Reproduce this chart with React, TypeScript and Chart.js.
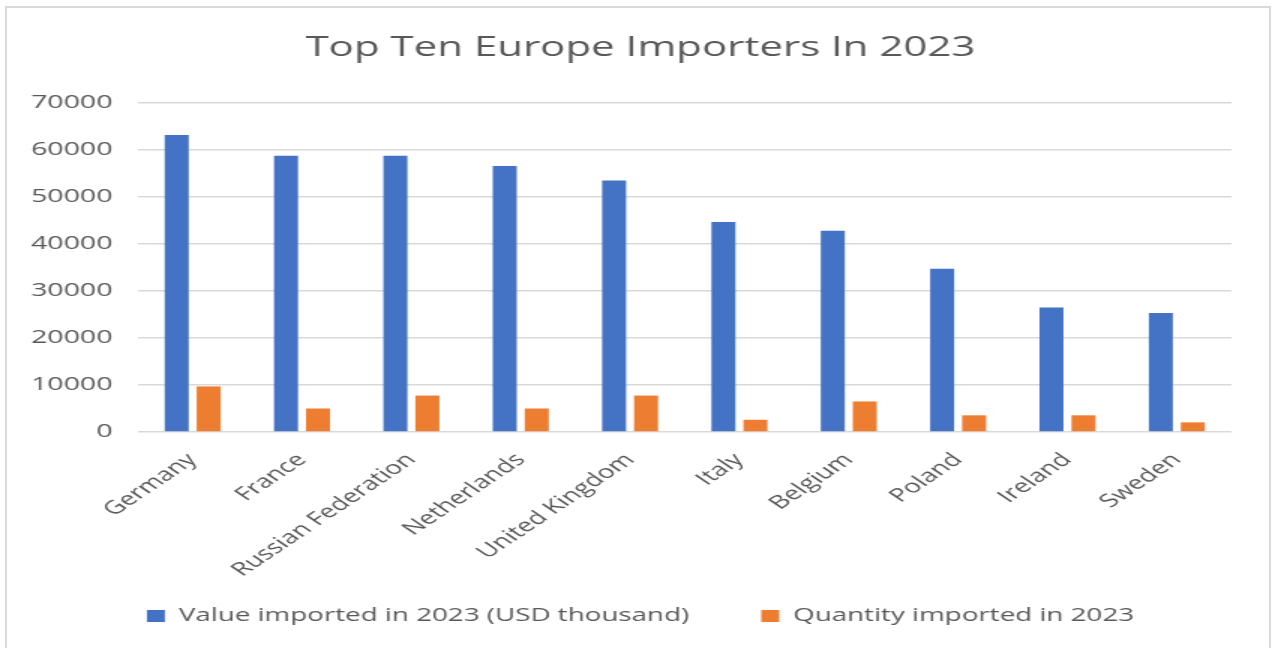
import { useEffect, useRef } from 'react';
import { Chart, registerables } from 'chart.js';

Chart.register(...registerables);

const categories = [
  'Germany',
  'France',
  'Russian Federation',
  'Netherlands',
  'United Kingdom',
  'Italy',
  'Belgium',
  'Poland',
  'Ireland',
  'Sweden',
];
const valueImported = [63200, 58800, 58800, 56600, 53500, 44700, 42800, 34750, 26500, 25300];
const quantityImported = [9700, 5000, 7750, 5000, 7750, 2600, 6500, 3550, 3550, 2050];
const seriesNames = ['Value imported in 2023 (USD thousand)', 'Quantity imported in 2023'];
const chartTitle = 'Top Ten Europe Importers In 2023';
const yMin = 0;
const yMax = 70000;
const yStep = 10000;

const FONT = "'Open Sans', 'Noto Sans', sans-serif";
const TEXT = '#595959';
const SX = 1.5;
const W = 849;
const H = 648;

// lets the rotated category labels extend below the x-axis box (no clipping)
const labelRoom = {
  id: 'labelRoom',
  afterLayout(chart: any) {
    const x = chart.scales.x;
    if (x) x.bottom = x.bottom + 40;
  },
};

export default function App() {
  const ref = useRef<HTMLCanvasElement | null>(null);

  useEffect(() => {
    if (!ref.current) return;
    const chart = new Chart(ref.current, {
      type: 'bar',
      data: {
        labels: categories,
        datasets: [
          {
            label: seriesNames[0],
            data: valueImported,
            backgroundColor: '#4472C4',
            borderWidth: 0,
            categoryPercentage: 0.585,
            barPercentage: 0.75,
          },
          {
            label: seriesNames[1],
            data: quantityImported,
            backgroundColor: '#ED7D31',
            borderWidth: 0,
            categoryPercentage: 0.585,
            barPercentage: 0.75,
          },
        ],
      },
      plugins: [labelRoom],
      options: {
        animation: false,
        responsive: false,
        devicePixelRatio: 1,
        layout: { padding: { left: 5, right: 0, top: 0, bottom: 12.75 } },
        plugins: {
          title: {
            display: true,
            text: chartTitle,
            color: TEXT,
            font: { family: FONT, size: 28, weight: 'normal' },
            padding: { top: 31, bottom: 38.4 },
          },
          legend: {
            position: 'bottom',
            labels: {
              boxWidth: 12,
              boxHeight: 12,
              padding: 48,
              color: TEXT,
              font: { family: FONT, size: 18.5 },
            },
          },
          tooltip: { enabled: false },
        },
        scales: {
          x: {
            grid: { display: false },
            border: { display: false },
            ticks: {
              color: TEXT,
              font: { family: FONT, size: 18.5 },
              minRotation: 45,
              maxRotation: 45,
              padding: 9,
            },
            afterFit: (s: any) => {
              s.height = 126.75;
            },
          },
          y: {
            min: yMin,
            max: yMax,
            ticks: {
              stepSize: yStep,
              color: TEXT,
              font: { family: FONT, size: 19 },
              padding: 17,
              callback: (v: any) => String(v),
            },
            grid: { color: '#d9d9d9', lineWidth: 1.5, drawTicks: false },
            border: { display: false },
            afterFit: (s: any) => {
              s.width = 87;
            },
          },
          yRight: {
            position: 'right',
            grid: { display: false },
            border: { display: false },
            ticks: { display: false },
            afterFit: (s: any) => {
              s.width = 28;
            },
          },
        },
      },
    });
    return () => chart.destroy();
  }, []);

  return (
    <>
      <div
        style={{
          position: 'fixed',
          left: 5,
          top: 6,
          width: 1262,
          height: 700,
          border: '2px solid #d9d9d9',
          boxSizing: 'content-box',
        }}
      />
      <div
        style={{
          position: 'fixed',
          left: 0,
          top: 0,
          width: W,
          height: H,
          transform: `scaleX(${SX})`,
          transformOrigin: 'left top',
        }}
      >
        <canvas ref={ref} width={W} height={H} style={{ width: W, height: H, display: 'block' }} />
      </div>
    </>
  );
}
